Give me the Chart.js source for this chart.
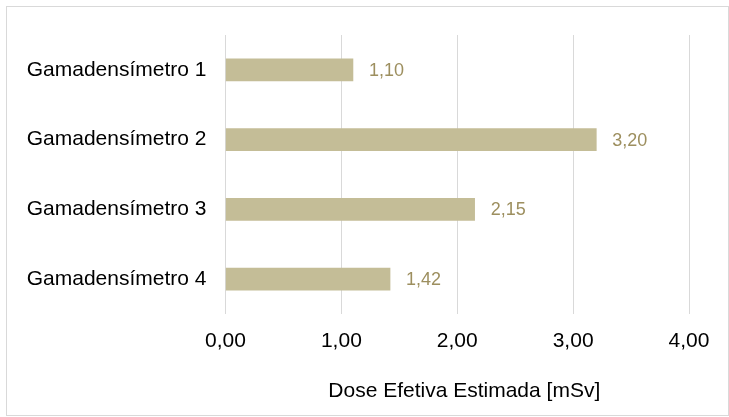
<!DOCTYPE html>
<html>
<head>
<meta charset="utf-8">
<script src="https://cdn.jsdelivr.net/npm/chart.js@4/dist/chart.umd.min.js"></script>
<style>
  html, body { margin: 0; padding: 0; background: #ffffff; }
  #wrap { position: relative; width: 729px; height: 417px; }
  canvas { display: block; }
</style>
</head>
<body>
<div id="wrap"><canvas id="c" width="729" height="417"></canvas></div>
<script>
// Categories and measured doses
const categories = ['Gamadensímetro 1', 'Gamadensímetro 2', 'Gamadensímetro 3', 'Gamadensímetro 4'];
const doses = [1.10, 3.20, 2.15, 1.42];
const axisTicks = [0, 1, 2, 3, 4];
const axisTitle = 'Dose Efetiva Estimada [mSv]';

const FONT = '"Liberation Sans", Arial, sans-serif';
const fmt = v => Number(v).toFixed(2).replace('.', ',');

// Light frame around the whole chart, plus the axis title under the ticks
const framePlugin = {
  id: 'frame',
  afterDraw(chart) {
    const ctx = chart.ctx;
    ctx.save();
    ctx.strokeStyle = '#d9d9d9';
    ctx.lineWidth = 1;
    ctx.strokeRect(6.5, 6.5, 722, 409);
    const area = chart.chartArea;
    ctx.font = '21px ' + FONT;
    ctx.fillStyle = '#000000';
    ctx.textAlign = 'center';
    ctx.textBaseline = 'middle';
    ctx.fillText(axisTitle, (area.left + area.right) / 2 + 7, area.bottom + 77);
    ctx.restore();
  }
};

// Value labels to the right of each bar
const valueLabels = {
  id: 'valueLabels',
  afterDatasetsDraw(chart) {
    const ctx = chart.ctx;
    const meta = chart.getDatasetMeta(0);
    ctx.save();
    ctx.font = '18px ' + FONT;
    ctx.fillStyle = '#9d8f5f';
    ctx.textAlign = 'left';
    ctx.textBaseline = 'middle';
    meta.data.forEach((bar, i) => {
      ctx.fillText(fmt(chart.data.datasets[0].data[i]), bar.x + 16, bar.y + 1);
    });
    ctx.restore();
  }
};

new Chart(document.getElementById('c'), {
  type: 'bar',
  data: {
    labels: categories,
    datasets: [{
      data: doses,
      backgroundColor: '#c4bd97',
      borderWidth: 0,
      barThickness: 22
    }]
  },
  options: {
    indexAxis: 'y',
    responsive: false,
    animation: false,
    events: [],
    layout: { padding: { left: 0, right: 40, top: 35, bottom: 10 } },
    plugins: {
      legend: { display: false },
      tooltip: { enabled: false }
    },
    scales: {
      x: {
        min: axisTicks[0],
        max: axisTicks[axisTicks.length - 1],
        afterBuildTicks(scale) { scale.ticks = axisTicks.map(v => ({ value: v })); },
        afterFit(scale) { scale.height = 93; },
        border: { display: false },
        grid: { color: '#d9d9d9', lineWidth: 1, drawTicks: false },
        ticks: {
          padding: 15,
          color: '#000000',
          font: { family: FONT, size: 21 },
          maxRotation: 0,
          callback: v => fmt(v)
        },
        title: { display: false }
      },
      y: {
        afterFit(scale) { scale.width = 225.5; },
        border: { display: false },
        grid: { display: false, drawTicks: false },
        ticks: {
          padding: 19,
          color: '#000000',
          font: { family: FONT, size: 21 }
        }
      }
    }
  },
  plugins: [framePlugin, valueLabels]
});
</script>
</body>
</html>
